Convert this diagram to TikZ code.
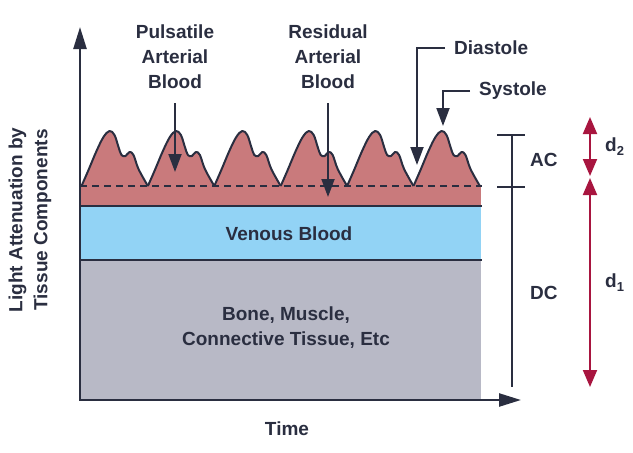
\documentclass[tikz,border=0pt]{standalone}
\usepackage{fontspec}
\setmainfont{Liberation Sans}
\usetikzlibrary{arrows.meta, positioning, calc}
\definecolor{inkblue}{HTML}{2A2E40}
\definecolor{artred}{HTML}{C97A7C}
\definecolor{venblue}{HTML}{92D3F5}
\definecolor{tissgray}{HTML}{B8B9C6}
\definecolor{dcrimson}{HTML}{A8153F}
\newcommand{\sublbl}[1]{\raisebox{-4pt}{\fontsize{13}{13}\selectfont #1}}
\tikzset{
  lbl/.style={
    font=\fontsize{19}{25}\selectfont\bfseries,
    text=inkblue, align=center, inner sep=0pt
  },
  axisarrow/.style={{Triangle[length=22pt,width=13pt]}-{Triangle[length=22pt,width=13pt]},
    line width=2.4pt, draw=inkblue},
  callout/.style={-{Triangle[length=18pt,width=13pt]}, line width=2pt, draw=inkblue},
  dimarrow/.style={{Triangle[length=17pt,width=14pt]}-{Triangle[length=17pt,width=14pt]},
    line width=2pt, draw=dcrimson},
  layerline/.style={line width=2pt, draw=inkblue},
  pulsewave/.pic={
    \fill[artred] plot[smooth, tension=0.6] coordinates {(0,0) (7,-16) (15,-35) (22,-49) (28,-55) (33,-51) (37,-39) (40,-31) (44,-30) (48,-34) (52,-31) (57,-17) (66.4,0)} -- cycle;
    \draw[inkblue, line width=2pt, line join=round] plot[smooth, tension=0.6] coordinates {(0,0) (7,-16) (15,-35) (22,-49) (28,-55) (33,-51) (37,-39) (40,-31) (44,-30) (48,-34) (52,-31) (57,-17) (66.4,0)};
  },
}
\begin{document}
\begin{tikzpicture}[x=1pt, y=-1pt]
  \useasboundingbox (0,0) rectangle (633,453);
  % tissue layers
  \fill[tissgray] (80,260) rectangle (481,400);
  \fill[venblue]  (80,206) rectangle (481,260);
  \fill[artred]   (80,186) rectangle (481,206);
  \draw[layerline] (80,206) -- (482,206);
  \draw[layerline] (80,260) -- (482,260);
  \foreach \k in {0,...,5}
    \pic at ({81.5+\k*66.4},186) {pulsewave};
  \draw[inkblue, line width=2pt, dash pattern=on 7pt off 5pt] (80,186) -- (482,186);
  % axes
  \coordinate (origin) at (80,400);
  \coordinate (ytip) at (80,27);
  \coordinate (xtip) at (521,400);
  \draw[axisarrow] (ytip) -- (origin) -- (xtip);
  \node[lbl, rotate=90] (ylabel) at (30,220) {Light Attenuation by\\Tissue Components};
  \node[lbl] (timelbl) at (287,429) {Time};
  % layer labels
  \node[lbl] (venous) at (289,234) {Venous Blood};
  \node[lbl] (bone) at (286,328) {Bone, Muscle,\\Connective Tissue, Etc};
  % callouts
  \node[lbl] (pulsatile) at (175,57) {Pulsatile\\Arterial\\Blood};
  \node[lbl] (residual) at (328,57) {Residual\\Arterial\\Blood};
  \coordinate (pulsetip) at (175,172);
  \coordinate (residtip) at (328,197);
  \draw[callout] ([yshift=-14pt]pulsatile.south) -- (pulsetip);
  \draw[callout] ([yshift=-14pt]residual.south) -- (residtip);
  \node[lbl, anchor=west] (diastole) at (454,48) {Diastole};
  \node[lbl, anchor=west] (systole) at (479,91) {Systole};
  \coordinate (diastip) at (417,165);
  \coordinate (systip) at (443,126);
  \draw[callout] ([xshift=-9pt]diastole.west) -| (diastip);
  \draw[callout] ([xshift=-9pt]systole.west) -| (systip);
  % AC / DC bar
  \coordinate (bartop) at (512,135);
  \coordinate (barmid) at (512,187);
  \coordinate (barbot) at (512,387);
  \draw[layerline] (bartop) -- (barbot);
  \draw[layerline] ([xshift=-15pt]bartop) -- ([xshift=13pt]bartop);
  \draw[layerline] ([xshift=-15pt]barmid) -- ([xshift=13pt]barmid);
  \node[lbl, anchor=west] (aclbl) at (530,160) {AC};
  \node[lbl, anchor=west] (dclbl) at (530,293) {DC};
  % d1 / d2 arrows
  \coordinate (dtop) at (590,117);
  \coordinate (dmidup) at (590,176);
  \coordinate (dmiddown) at (590,178);
  \coordinate (dbot) at (590,387);
  \draw[dimarrow] (dtop) -- (dmidup);
  \draw[dimarrow] (dmiddown) -- (dbot);
  \node[lbl, anchor=west] (dtwo) at (605,147) {d\sublbl{2}};
  \node[lbl, anchor=west] (done) at (605,283) {d\sublbl{1}};
\end{tikzpicture}
\end{document}
